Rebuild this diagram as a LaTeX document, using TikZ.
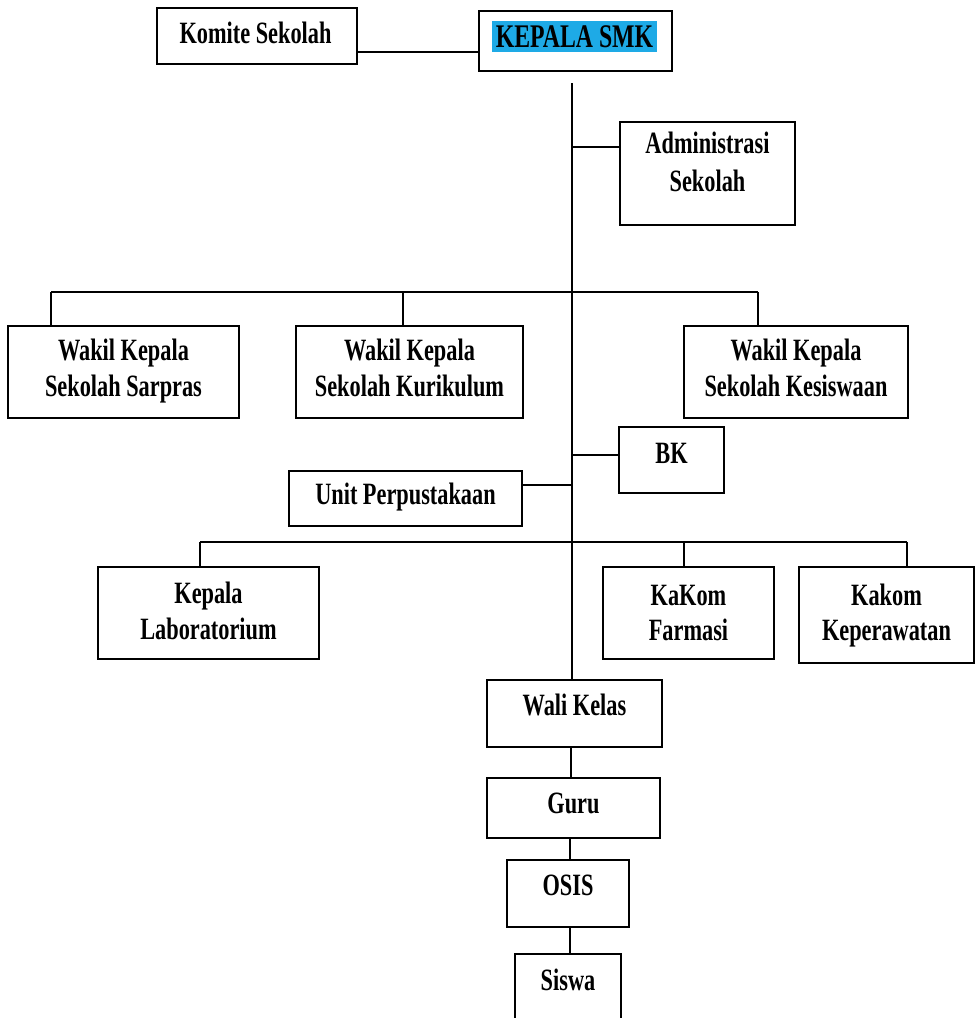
\documentclass[tikz,border=0pt]{standalone}
\usepackage{fontspec}
\setmainfont{Liberation Serif}[FakeStretch=0.72]
\usetikzlibrary{calc}
\definecolor{smkblue}{RGB}{30,170,230}
\begin{document}
\begin{tikzpicture}[x=1pt,y=-1pt,
  box/.style={draw, line width=2.2pt, inner sep=0pt},
  lbl/.style={anchor=base, inner sep=0pt, font=\fontsize{31}{36}\selectfont\bfseries},
  link/.style={line width=1.7pt}]
\clip (0,0) rectangle (977,1018);
\fill[white] (0,0) rectangle (977,1018);

% boxes
\node[box, minimum width=200pt, minimum height=56pt] (komite) at (257,36) {};
\node[box, minimum width=193pt, minimum height=60pt] (kepala) at (575.5,41) {};
\node[box, minimum width=175pt, minimum height=103pt] (admin) at (707.5,173.5) {};
\node[box, minimum width=231pt, minimum height=92pt] (sarpras) at (123.5,372) {};
\node[box, minimum width=227pt, minimum height=92pt] (kurikulum) at (409.5,372) {};
\node[box, minimum width=224pt, minimum height=92pt] (kesiswaan) at (796,372) {};
\node[box, minimum width=105pt, minimum height=66pt] (bk) at (671.5,460) {};
\node[box, minimum width=233pt, minimum height=55pt] (unit) at (405.5,498.5) {};
\node[box, minimum width=221pt, minimum height=92pt] (lab) at (208.5,613) {};
\node[box, minimum width=171pt, minimum height=92pt] (farmasi) at (688.5,613) {};
\node[box, minimum width=175pt, minimum height=96pt] (perawat) at (886.5,615) {};
\node[box, minimum width=175pt, minimum height=67pt] (wali) at (574.5,713.5) {};
\node[box, minimum width=173pt, minimum height=60pt] (guru) at (573.5,808) {};
\node[box, minimum width=122pt, minimum height=67pt] (osis) at (568,893.5) {};
\node[box, minimum width=106pt, minimum height=76pt] (siswa) at (568,992) {};

% labels
\node[lbl] (tkomite) at (255.5,43) {Komite Sekolah};
\node[fill=smkblue, minimum width=165pt, minimum height=31pt, inner sep=0pt] (hl) at (574.5,36.5) {};
\node[lbl, font=\fontsize{33}{38}\selectfont\bfseries] (tkepala) at (574.5,47) {KEPALA SMK};
\node[lbl] (tadmin1) at (707.5,153) {Administrasi};
\node[lbl] (tadmin2) at (707.5,191) {Sekolah};
\node[lbl] (tsar1) at (123.5,360) {Wakil Kepala};
\node[lbl] (tsar2) at (123.5,396) {Sekolah Sarpras};
\node[lbl] (tkur1) at (409.5,360) {Wakil Kepala};
\node[lbl] (tkur2) at (409.5,396) {Sekolah Kurikulum};
\node[lbl] (tkes1) at (796,360) {Wakil Kepala};
\node[lbl] (tkes2) at (796,396) {Sekolah Kesiswaan};
\node[lbl] (tbk) at (671.5,463) {BK};
\node[lbl] (tunit) at (405.5,504) {Unit Perpustakaan};
\node[lbl] (tlab1) at (208.5,603) {Kepala};
\node[lbl] (tlab2) at (208.5,639) {Laboratorium};
\node[lbl] (tfar1) at (688.5,605) {KaKom};
\node[lbl] (tfar2) at (688.5,640) {Farmasi};
\node[lbl] (tper1) at (886.5,605) {Kakom};
\node[lbl] (tper2) at (886.5,640) {Keperawatan};
\node[lbl] (twali) at (574.5,715) {Wali Kelas};
\node[lbl] (tguru) at (573.5,813) {Guru};
\node[lbl] (tosis) at (568,895) {OSIS};
\node[lbl] (tsiswa) at (568,990) {Siswa};

% connectors
\coordinate (c1) at ($(komite.east)+(0,16)$);
\draw[link] (c1) -- (c1 -| kepala.west);

\coordinate (trtop) at (572,83);
\draw[link] (trtop) -- (trtop |- wali.north);

\coordinate (ca) at (572,147);
\draw[link] (ca) -- (ca -| admin.west);

\coordinate (d1) at (51,292);
\coordinate (d2) at (403,292);
\coordinate (d3) at (758,292);
\draw[link] (d1) -- (d3);
\draw[link] (d1) -- (d1 |- sarpras.north);
\draw[link] (d2) -- (d2 |- kurikulum.north);
\draw[link] (d3) -- (d3 |- kesiswaan.north);

\coordinate (cb) at (572,455);
\draw[link] (cb) -- (cb -| bk.west);
\coordinate (cu) at (572,485);
\draw[link] (cu) -- (cu -| unit.east);

\coordinate (e1) at (200,542);
\coordinate (e2) at (684,542);
\coordinate (e3) at (907,542);
\draw[link] (e1) -- (e3);
\draw[link] (e1) -- (e1 |- lab.north);
\draw[link] (e2) -- (e2 |- farmasi.north);
\draw[link] (e3) -- (e3 |- perawat.north);

\coordinate (w1) at (571,747);
\draw[link] (w1 |- wali.south) -- (w1 |- guru.north);
\coordinate (w2) at (570,838);
\draw[link] (w2 |- guru.south) -- (w2 |- osis.north);
\draw[link] (w2 |- osis.south) -- (w2 |- siswa.north);
\end{tikzpicture}
\end{document}
